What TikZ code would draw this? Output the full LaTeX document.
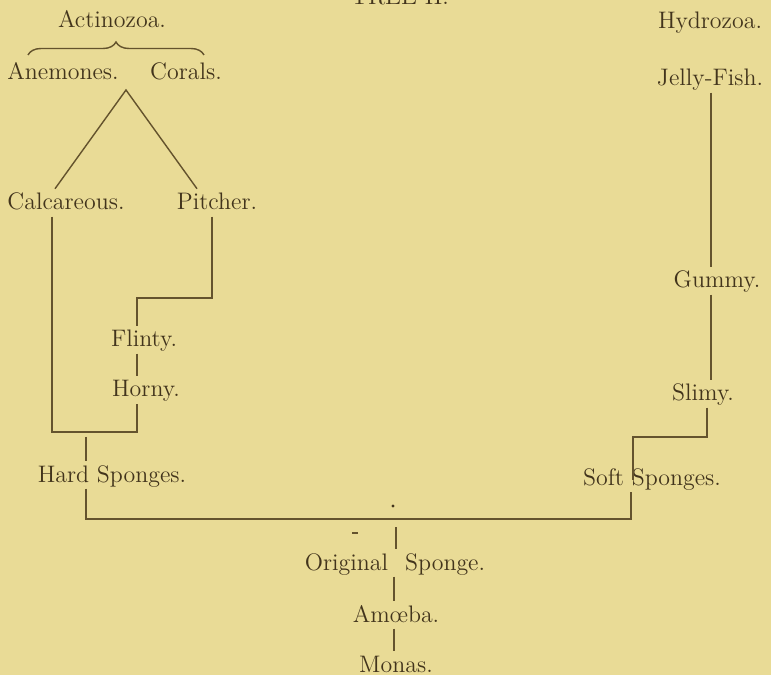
\documentclass[tikz,border=0pt]{standalone}
\usepackage{tikz}
\usetikzlibrary{calc,decorations.pathreplacing}
\usepackage{xcolor}
\definecolor{paper}{RGB}{233,219,150}
\definecolor{ink}{RGB}{66,52,28}
\definecolor{rule}{RGB}{100,83,45}

\begin{document}
\begin{tikzpicture}[x=0.02cm,y=-0.02cm,
		taxon/.style={font=\fontsize{13.6pt}{16pt}\selectfont, text=ink, anchor=base,
			inner sep=0pt, outer xsep=0pt, outer ysep=2.8pt, text height=9.3pt, text depth=1pt},
		branch/.style={draw=rule, line width=0.8pt}]
		\fill[paper] (0,0) rectangle (771,675);% the page
		\useasboundingbox (0,0) rectangle (771,675);
		\clip (0,0) rectangle (771,675); % Clips the title at the top edge

		\node[taxon] (title) at (400,5) {TREE II.};
		\node[taxon] (actin) at (112,28) {Actinozoa.};
		\node[taxon] (hydro) at (710,29) {Hydrozoa.};
		\node[taxon] (anem)  at (63,80) {Anemones.};
		\node[taxon] (coral) at (186,80) {Corals.};
		\node[taxon] (jelly) at (710,86) {Jelly-Fish.};
		\node[taxon] (calc)  at (66,210) {Calcareous.};
		\node[taxon] (pitch) at (217,210) {Pitcher.};
		\node[taxon] (gum)   at (717,288) {Gummy.};
		\node[taxon] (flint) at (144,347) {Flinty.};
		\node[taxon] (horn)  at (146,397) {Horny.};
		\node[taxon] (slim)  at (703,401) {Slimy.};
		\node[taxon] (hard)  at (112,482) {Hard Sponges.};
		\node[taxon] (soft)  at (652,485) {Soft Sponges.};
		\node[taxon] (orig)  at (395,570) {Original\hspace{9.7pt}Sponge.};
		\node[taxon] (amoe)  at (396,622) {Am\oe ba.};
		\node[taxon] (monas) at (396,672) {Monas.};

		\coordinate (braceL)    at (28,55);
		\coordinate (braceR)    at (204,55);
		\coordinate (actjoin)   at (126,90);
		\coordinate (leftrail)  at (52,432);
		\coordinate (midrail)   at (137,432);
		\coordinate (pitchknee) at (212,298);
		\coordinate (flintknee) at (137,298);
		\coordinate (hardtop)   at (86,437);
		\coordinate (baseL)     at (86,519);
		\coordinate (baseR)     at (631,519);
		\coordinate (slimknee)  at (707,437);
		\coordinate (softknee)  at (633,437);
		\coordinate (softfoot)  at (633,480);
		\coordinate (hydrorail) at (711,0);
		\coordinate (origtop)   at (396,527);
		\coordinate (stemrail)  at (394,0);

		\draw[branch, decorate, decoration={brace, amplitude=0.26cm}] (braceL) -- (braceR);
		\draw[branch] ($(calc.north)+(-11,0)$) -- (actjoin) -- ($(pitch.north)+(-20,0)$);

		% hard side
		\draw[branch] (calc.south -| leftrail) -- (leftrail) -- (midrail) -- (horn.south -| midrail);
		\draw[branch] (pitch.south -| pitchknee) -- (pitchknee) -- (flintknee) -- (flint.north -| flintknee);
		\draw[branch] (flint.south -| midrail) -- (horn.north -| midrail);
		\draw[branch] (hardtop) -- (hard.north -| hardtop);

		% soft side
		\draw[branch] (jelly.south -| hydrorail) -- (gum.north -| hydrorail);
		\draw[branch] (gum.south -| hydrorail) -- (slim.north -| hydrorail);
		\draw[branch] (slim.south -| slimknee) -- (slimknee) -- (softknee) -- (softfoot);

		% the common stem
		\draw[branch] (hard.south -| baseL) -- (baseL) -- (baseR) -- (soft.south -| baseR);
		\draw[branch] (origtop) -- (orig.north -| origtop);
		\draw[branch] (orig.south -| stemrail) -- (amoe.north -| stemrail);
		\draw[branch] (amoe.south -| stemrail) -- (monas.north -| stemrail);

		\fill[ink] (393,506) circle (0.9pt);% specks in the print
		\draw[branch] (352,533) -- (358,533);
	  \end{tikzpicture}
\end{document}
